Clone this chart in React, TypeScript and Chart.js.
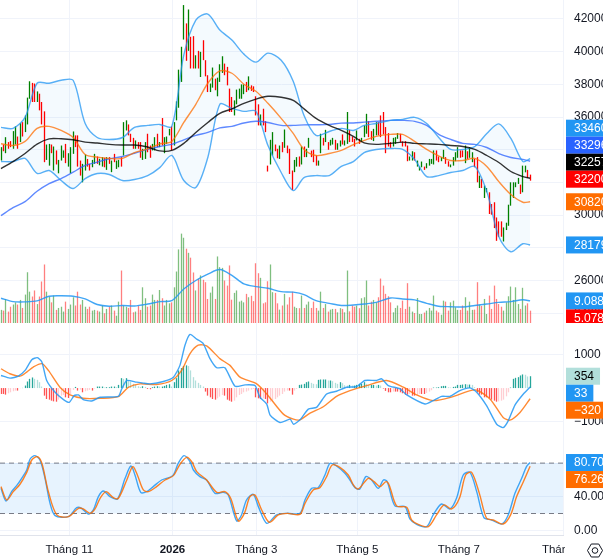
import React, { useEffect, useRef } from "react";
import { Chart, registerables } from "chart.js";

Chart.register(...registerables);

// ---------- candles ----------
const candleHigh = [
  34160,34320,34770,34470,34530,35140,35430,34810,35630,35690,36100,37190,38190,38090,38050,37570,37430,36920,36350,34320,
  34360,34320,34200,33960,33380,34260,33960,34360,33790,34160,35120,34880,34880,33340,33140,33710,33440,33140,33380,33750,
  33590,33450,33550,33510,33550,33550,33340,33750,33340,33380,33550,35690,35800,35550,34980,34730,34570,34470,34470,34060,
  34470,34980,34260,34360,34770,34980,34470,35940,34770,34810,35280,35430,35690,36960,38900,40300,42850,41730,42580,40910,
  40950,39780,40050,39990,40700,39480,38560,38050,39030,38350,38410,39230,39720,39270,39070,37740,37230,37020,37680,37740,
  38000,38000,38150,38490,37940,37880,37270,36780,36160,36510,35750,33030,34610,35080,34320,34060,34260,34470,35240,34260,
  34060,32730,33380,33550,33590,34200,34200,34060,34730,33950,34000,33650,33340,34980,34730,35220,34470,34610,34730,34610,
  34400,34570,34940,34570,36310,35220,34810,34670,35180,34670,34730,35490,36200,35750,35140,35280,35690,35690,36100,36310,
  35390,35020,34470,34730,34770,35020,34980,34510,34530,34260,33590,33910,33850,33340,32970,33280,32970,33180,33440,33440,
  33960,33960,33590,33550,34000,33550,33300,33100,33550,33850,34160,33960,33960,34260,33910,34160,33850,33440,33550,32420,
  32220,31810,31660,31400,30680,30790,29860,29620,29620,29250,29540,30640,32010,32010,32010,32280,31870,33030,33030,32770,32480,
];
const candleLow = [
  33340,33910,33790,34060,34160,34060,34320,34060,34470,34810,35080,35550,37120,36920,36920,36920,36410,35550,33240,33380,
  33030,33790,32730,33100,32560,33340,33510,33180,32970,32560,33750,34160,32970,32420,32010,32730,32970,32730,32930,33140,
  33140,33050,32970,32930,32770,33140,32630,33240,32830,32930,32970,33650,35180,34880,34470,34060,34060,34060,33510,33380,
  33440,33850,33510,33960,33960,34160,34160,34260,33790,34360,34880,33960,34260,35800,36570,38150,40740,39440,40050,38970,
  38970,38970,38970,38450,39480,38490,37530,37530,37800,37640,37270,38150,38700,38560,37940,36310,36310,36100,36780,37120,
  37120,37400,37530,37640,37600,37530,36100,35490,35490,35490,35080,32670,33100,33650,33910,33480,33440,33850,34120,33790,
  32520,31540,32630,32970,32970,33100,33550,33550,34120,33550,33240,33030,33030,33790,34260,34470,34000,34260,34320,34000,
  34000,34200,34320,34260,34360,34470,34470,34200,34570,34360,34470,34770,34980,34770,34610,34530,34880,34880,34770,34940,
  33790,34200,34120,34200,34360,34670,34470,34200,34200,33300,33340,33340,33340,32970,32730,32930,32770,32870,33030,33140,
  33100,33340,33240,33300,33440,33140,32970,32930,33030,33300,33510,33510,33550,33180,33440,33510,33240,32930,32010,31660,
  31660,31050,31400,30070,30030,29210,28430,28680,28680,28390,29090,29350,30580,31050,31710,31910,31300,31400,32620,32280,32110,
];
const candleDir =
  "GRGRRGGRGRGGGRRGRRRGGRGRGGGRGGGRRRGGRRGGR" + "G" + "GRGRGRGGR" +
  "GGRRRGRRGGRRGGRGRGGGRGGGGGRGRRGR" + "GRRRGGRGGGRRRRGGGG" + "G" + "RGRRRRGR" +
  "RRGGRRGRGRRRGGRGRGGRRRGGRGRGGRGGRGGRRRGRGGGRRGGRRRRRRGGG" +
  "RRRRGGRGGGRGGGGRRGGRRGGGGRRGRGGRRGRGGRRRRRRGGGGGGGRGGRR";

// ---------- volume ----------
const volumes = [
  5.4,5.1,9.9,4.7,6.7,7.6,8.5,7.6,9.5,6.2,11.7,20.9,12.9,10.9,13.4,7.8,10.9,17.1,24.1,12.9,
  10.9,8.5,11.3,5.4,6.2,6.7,4.7,8.8,5.8,7.6,10.6,7.2,12.9,7.6,9.5,6.7,5.8,6.7,5.1,5.4,
  5.1,4.7,7.2,4.0,5.8,6.7,7.2,5.1,3.0,8.8,21.6,7.2,6.7,6.2,9.5,4.4,4.7,7.2,5.4,14.7,
  10.2,6.7,7.2,11.7,9.5,9.5,13.6,10.2,7.2,9.5,8.1,8.5,14.7,21.2,30.3,36.8,35.1,30.6,28.9,26.9,
  20.8,13.4,18.2,19.6,17.8,16.8,9.9,12.5,15.0,9.9,27.4,23.0,22.7,17.5,15.4,23.7,9.6,12.4,13.4,8.8,
  9.2,8.5,12.0,10.6,11.2,9.0,24.6,20.5,18.6,8.1,8.5,17.2,24.1,12.7,12.4,8.1,5.5,7.2,12.0,7.6,
  10.6,12.9,6.7,6.2,6.1,11.3,6.2,7.6,8.8,6.2,8.8,6.2,5.1,12.9,6.2,7.8,4.7,5.5,5.8,5.8,
  4.4,6.1,5.8,4.4,21.6,4.8,7.2,6.7,7.2,6.1,10.2,10.6,17.5,7.2,8.8,9.5,8.5,10.6,18.3,15.4,
  12.0,11.0,8.5,4.4,6.2,7.2,6.2,9.2,5.8,16.4,6.7,4.7,4.1,10.3,3.7,3.7,4.3,5.1,6.2,5.1,
  11.3,5.1,4.4,3.4,9.2,8.8,5.1,8.5,9.2,6.5,5.4,5.4,7.2,10.6,5.1,8.8,5.4,5.5,16.8,7.6,
  7.0,9.9,3.7,11.3,5.8,15.4,9.9,7.8,6.7,5.1,8.5,11.0,15.0,9.5,14.7,7.8,5.8,14.5,7.2,8.1,5.078,
];

// ---------- overlay lines, read at these bar positions ----------
const knots = [0,5,10,15,20,25,30,35,40,45,50.5,55.5,61,66,71,76,81,86,91,96,101,106,111,116.5,121.5,126,131,136.5,141.5,146.5,151,156,162,167,172,177,182,187,192,197,202,207,212,217,220];
const bandUpper = [35370,35310,35980,38070,38070,38250,38250,35610,34750,34630,34750,35370,35490,35550,35430,39790,41930,42300,41320,40710,39850,39360,39910,39480,38190,36100,34880,35120,35310,35180,35490,35610,35800,35860,35980,35610,34750,34020,34020,34200,35000,35580,34690,33280,33460];
const bandLower = [33280,33280,33470,32550,32730,32120,31630,32240,32550,32490,32120,32180,32420,32910,33650,32120,31690,33530,36780,36530,36350,36350,34260,32610,31500,32300,32420,32420,32980,33280,33830,34020,34080,34020,33400,32360,32420,32610,32730,32980,31440,28680,27760,28250,28179];
const ma20 = [34370,34260,34510,35310,35430,35180,34750,33710,33550,33470,33470,33830,34050,34360,34510,35670,36780,38070,38820,38680,38010,37580,36840,35920,35000,34020,33650,33770,33960,34320,34570,34820,34940,34940,34510,34020,33620,33340,33340,33470,32980,32050,31260,30790,30820];
const ma50 = [32850,33280,33770,34350,34670,34670,34610,34470,34410,34330,34290,34290,34170,33930,33960,34390,35060,35670,36230,36500,36840,37100,37270,37210,37020,36500,35920,35490,35180,34820,34420,34330,34390,34470,34390,34360,34330,34260,34200,34020,33650,33220,32670,32360,32257];
const ma100 = [29970,30460,30830,31460,31930,32240,32630,33040,33240,33450,33590,33790,34020,34200,34330,34610,34880,35060,35340,35430,35640,35740,35670,35490,35490,35520,35530,35550,35630,35640,35690,35740,35800,35800,35740,35490,34940,34630,34390,34330,34140,33770,33530,33410,33296];
const volumeMA = [10.2,8.8,8.7,9.1,11.0,11.2,11.0,9.9,7.6,6.9,7.2,7.0,7.8,8.8,9.2,14.0,17.5,20.1,22.0,19.6,16.1,15.0,14.3,12.9,12.7,11.7,9.2,8.1,7.2,7.4,7.8,8.5,10.3,9.9,9.5,8.1,6.9,6.7,6.6,7.2,7.8,8.5,8.8,9.6,9.088];

// ---------- MACD ----------
const macdAt = [0,3.7,7.2,10,12.8,15.1,17,19,22.5,26,28.4,30.4,32.2,34.2,37.7,41.2,48.8,50.2,52.3,56.4,59.2,62,67.5,71.7,74.4,76.5,78.6,81.4,84.1,86.9,89.7,93.1,97.3,101.5,105.6,107.7,110.5,111.9,116,120.2,121.6,124.3,127.8,131.2,135.4,139.5,143.7,147.9,151.3,156.2,158.3,161,165.9,168.7,176.3,179.7,183.2,186.7,190.8,195,197.8,201.9,206.1,208.8,210.9,213.7,217.2,220];
const macdLine = [376,296,356,527,848,909,778,226,-126,-346,-427,-226,-206,-346,-387,-276,-246,-25,226,176,146,126,196,326,678,1280,1601,1461,1330,879,607,607,55,95,75,-276,-477,-808,-1029,-929,-1079,-949,-627,-577,-176,-95,25,45,226,226,276,75,-25,-206,-477,-376,-246,-246,-75,5,-125,-527,-1079,-1180,-979,-507,-176,33];
const signalAt = [0,3.7,7.9,10.7,13.4,17,19.7,24.5,28.7,34.2,41.2,48.8,53,57.8,64.7,71,75.1,78.6,82,85.5,91,95.2,99.4,106.3,110.5,117.4,121.6,124.3,128.5,134,139.5,145.1,152,160.3,167.3,172.8,179.7,188,197.1,203.3,208.8,211.6,215.8,220];
const signalLine = [577,427,356,477,627,728,527,25,-206,-306,-306,-256,25,126,105,226,527,1029,1280,1260,879,678,326,125,-176,-778,-929,-949,-748,-557,-246,-75,75,226,25,-206,-376,-256,-55,-326,-878,-959,-728,-320];
const macdHist = [
  -176,-176,-196,-156,-126,-95,-75,-75,-5,5,75,196,276,316,276,246,176,45,-226,-326,
  -346,-376,-397,-407,-346,-226,-206,-276,-296,-176,-55,35,-75,-45,-126,-95,-75,-55,-75,-15,
  45,45,45,15,25,25,45,45,25,95,296,276,296,226,196,126,95,55,35,55,
  35,-25,-35,25,45,55,45,45,65,95,115,45,176,296,527,597,658,678,658,527,
  326,226,156,95,45,-105,-226,-276,-326,-346,-306,-256,-206,-226,-346,-376,-407,-376,-276,-206,
  -176,-126,-105,-75,-45,-25,-276,-306,-326,-306,-326,-457,-407,-376,-326,-276,-226,-176,-105,-75,
  -75,-196,-75,-25,95,105,126,176,196,156,126,115,246,256,256,256,226,226,206,156,
  126,176,146,85,75,95,75,75,95,126,126,176,126,95,95,95,75,95,75,-15,
  -85,-126,-126,-105,-105,-105,-126,-156,-196,-196,-176,-226,-226,-206,-176,-176,-176,-146,-105,-65,
  15,15,25,55,65,65,25,15,35,45,95,95,105,115,105,105,95,25,-126,-196,
  -196,-276,-276,-306,-346,-376,-407,-397,-376,-346,-246,-126,15,276,306,326,376,407,397,346,354,
];

// ---------- stochastic ----------
const stochKAt = [0,2.1,4.4,6.5,8.6,10.7,12.1,14.1,16.2,18.3,20.4,22.5,28,31.5,33.5,36.3,38.4,40.5,42.6,45.3,48.4,51.6,54,55.7,58.1,60.6,63.3,66.8,71.4,73.7,76.1,78.6,80,82.7,85.5,89,92.4,94.5,98,100,102.1,104.9,107,110.5,114.6,118.8,124.3,126.4,129.2,131.9,134.7,136.8,139.5,143,145.1,147.2,149.2,151.7,154.1,156.9,159,160.6,163.8,168,170,172.8,177,179.7,183.2,186.7,189.4,192.2,195,197.8,200.8,204,208.2,210.9,213.7,216.5,218.5,220];
const stochK = [50,34.9,46,53.2,61.9,71.8,84.9,88.9,83.7,61.9,32.1,17.5,16.3,27,26.2,19.4,24.2,40.1,46.8,40.1,37.3,61.9,76.6,65.9,45.2,46,52,59.9,65.1,79.8,88.9,81.7,71.8,63.9,59.9,44,45.2,42.1,11.1,18.3,36.1,42.9,28.2,8.3,18.3,20.2,20.2,36.1,50,50.8,65.9,79.8,76.6,67.9,59.9,50.8,49.2,63.9,59.9,50,59.9,57.9,29,28.2,13.5,7.1,4.4,18.3,31.3,25.4,38.1,65.9,69,46,15.1,12.3,7.5,18.3,44,61.9,75.8,80.7];
const stochDAt = [0,2.4,5.1,7.9,10.7,12.8,15.1,17,19.7,23.2,28,32.2,34.2,37,39.1,41.2,43.7,46.7,48.8,52.3,54.8,56.7,59.2,61.3,64.7,68.2,71.7,74.4,77.2,79.3,81.4,85.5,89.7,93.1,95.5,98.7,101.2,103.5,105.6,108.4,111.6,115.3,119.1,124.3,126.4,129.8,132.6,135.4,137.7,140.9,144.4,146.5,148.6,152.7,155.1,157.6,160.1,161.4,164.5,168.7,170.7,173.5,177.7,181.1,184.2,187.4,190.6,193.2,195.7,198.9,201.9,204.7,208.8,211.9,214.4,217.2,220];
const stochD = [52,36.1,46,54.8,69,83.7,87.7,79.8,46,18.3,16.3,26.2,25.4,20.2,25.4,38.1,46,38.9,38.1,59.9,75.8,65.9,48,46,52,59.9,65.1,78.6,86.9,81.7,69.8,59.9,45.2,46,38.1,11.1,20.2,40.1,42.1,24.2,9.5,18.3,20.2,19,32.1,48,50.8,63.9,77.8,75,65.9,54,49.2,61.9,57.9,52,57.9,54,29,27.4,12.3,7.1,4.4,18.3,30.2,25.4,38.1,65.9,69,44,14.3,12.3,7.5,18.3,40.1,57.9,76.26];

// ---------- axes ----------
const priceTicks = [42000,40000,38000,36000,34000,32000,30000,28000,26000,24000];
const macdTicks = [1000,-1000];
const stochTicks = [80,40,0];
const stochLevels = [80,20];
const monthAt = [28.4,71.3,106.2,148.2,190.4,233.68];
const monthNames = ["Tháng 11","2026","Tháng 3","Tháng 5","Tháng 7","Tháng 9"];

const BLUE = "#2196f3", ROYAL = "#2962ff", ORANGE = "#ff6d00", RED = "#ff0000", MINT = "#b2dfdb";
const FONT = '"Liberation Sans", sans-serif';
const FS = 12;
const X_MIN = -0.416, X_MAX = 233.68;
const GRID = "#f0f3fa", EDGE = "#e0e3eb", INK = "#131722";

const minus = (s: string) => s.replace("-", "\u2212");
const pts = (xs: number[], ys: number[]) => ys.map((y, i) => ({ x: xs[i], y }));
const line = (label: string, data: any[], color: string, yAxisID: string, extra: any = {}) => ({
  type: "line", label, data, yAxisID, xAxisID: "x", borderColor: color, borderWidth: 1.4, pointRadius: 0,
  tension: 0.3, fill: false, order: 1, ...extra,
});
const thinBar = { grouped: false, barThickness: 1.3, inflateAmount: 0, borderWidth: 0 };

// tags on the price scale: each keeps its value's height unless it would overlap a neighbour
const tagPlugin = {
  id: "tags",
  afterDraw(chart: any, _a: any, opts: any) {
    const { ctx } = chart;
    ctx.save();
    ctx.font = `${FS}px ${FONT}`;
    ctx.textBaseline = "middle";
    ctx.textAlign = "left";
    const H = 17;
    for (const g of opts.groups || []) {
      const items = g.items.map((t: any) => ({ ...t, y: chart.scales[g.axis].getPixelForValue(t.value) }));
      items.sort((p: any, q: any) => p.y - q.y);
      const ai = items.findIndex((t: any) => t.anchor);
      for (let i = ai - 1; i >= 0; i--) items[i].y = Math.min(items[i].y, items[i + 1].y - H);
      for (let i = ai + 1; i < items.length; i++) items[i].y = Math.max(items[i].y, items[i - 1].y + H);
      for (const t of items) {
        const w = ctx.measureText(t.text).width;
        ctx.fillStyle = t.bg;
        ctx.fillRect(566, t.y - H / 2, 8 + w + 6, H);
        ctx.fillStyle = t.fg;
        ctx.fillText(t.text, 574, t.y + 0.5);
      }
    }
    ctx.restore();
  },
};

// settles each bar on a whole pixel column so that the one-pixel bars stay crisp
const snapPlugin = {
  id: "snap",
  beforeDatasetsDraw(chart: any) {
    chart.getSortedVisibleDatasetMetas().forEach((meta: any) => {
      if (meta.type !== "bar") return;
      meta.data.forEach((el: any) => { el.x = Math.floor(el.x) + 0.5; });
    });
  },
};

// blanks the corner right of the time axis and draws the settings glyph
const cornerPlugin = {
  id: "corner",
  afterDraw(chart: any, _a: any, opts: any) {
    if (!opts.on) return;
    const { ctx, chartArea } = chart;
    ctx.save();
    ctx.fillStyle = "#fff";
    ctx.fillRect(565, chartArea.bottom + 1, 38, 40);
    const cx = 595, cy = chartArea.bottom + 15.5, r = 7.5;
    ctx.strokeStyle = INK;
    ctx.lineWidth = 1;
    ctx.beginPath();
    for (let k = 0; k < 6; k++) {
      const t = (Math.PI / 3) * k;
      const px = cx + r * Math.cos(t), py = cy + r * Math.sin(t);
      if (k === 0) ctx.moveTo(px, py); else ctx.lineTo(px, py);
    }
    ctx.closePath();
    ctx.stroke();
    ctx.beginPath();
    ctx.arc(cx, cy, 2.8, 0, Math.PI * 2);
    ctx.stroke();
    ctx.restore();
  },
};

const noPad = (s: any) => { s.paddingTop = 0; s.paddingBottom = 0; s.paddingLeft = 0; s.paddingRight = 0; };

const xAxis = (showLabels: boolean) => ({
  type: "linear",
  min: X_MIN,
  max: X_MAX,
  offset: false,
  grid: { offset: false, color: GRID, drawTicks: false, lineWidth: 1 },
  border: { display: true, color: EDGE },
  afterBuildTicks: (s: any) => { s.ticks = monthAt.map((value) => ({ value })); },
  afterFit: (s: any) => { s.height = showLabels ? 23 : 0; noPad(s); },
  ticks: {
    display: showLabels,
    autoSkip: false,
    maxRotation: 0,
    padding: 8,
    color: INK,
    font: (c: any) => ({ family: FONT, size: 11.5, weight: c.tick && c.tick.label === "2026" ? "bold" : "normal" }),
    callback: (v: number) => monthNames[monthAt.indexOf(v)] ?? "",
  },
});

const yAxis = (min: number, max: number, values: number[], fmt: (v: number) => string) => ({
  position: "right",
  min,
  max,
  grid: { color: GRID, drawTicks: false },
  border: { display: false },
  afterBuildTicks: (s: any) => { s.ticks = values.map((value) => ({ value })); },
  afterFit: (s: any) => { s.width = 40; noPad(s); },
  ticks: { autoSkip: false, padding: 11, color: INK, font: { family: FONT, size: FS }, callback: (v: number) => fmt(v) },
});

const baseOptions = (scales: any, plugins: any = {}) => ({
  responsive: false,
  animation: false,
  maintainAspectRatio: false,
  devicePixelRatio: 1,
  layout: { padding: 0 },
  events: [],
  scales,
  plugins: {
    legend: { display: false },
    tooltip: { enabled: false },
    filler: { drawTime: "beforeDatasetsDraw" },
    ...plugins,
  },
});

const candleColor = (d: string, a: number) => (d === "G" ? `rgba(0,128,0,${a})` : `rgba(255,0,0,${a})`);

export default function App() {
  const mainRef = useRef<HTMLCanvasElement>(null);
  const macdRef = useRef<HTMLCanvasElement>(null);
  const stochRef = useRef<HTMLCanvasElement>(null);

  useEffect(() => {
    const main = new Chart(mainRef.current as any, {
      type: "bar",
      plugins: [snapPlugin, tagPlugin],
      data: {
        datasets: [
          line("BB upper", pts(knots, bandUpper), "rgba(33,150,243,0.75)", "price", { fill: { target: "+1" }, backgroundColor: "rgba(33,150,243,0.05)", order: 2 }),
          line("BB lower", pts(knots, bandLower), "rgba(33,150,243,0.75)", "price", { order: 2 }),
          line("MA100", pts(knots, ma100), "rgba(41,98,255,0.75)", "price", { order: 2 }),
          line("MA50", pts(knots, ma50), "rgba(0,0,0,0.8)", "price", { order: 1 }),
          line("MA20", pts(knots, ma20), "rgba(255,109,0,0.75)", "price", { order: 1 }),
          line("Vol MA", pts(knots, volumeMA), "rgba(33,150,243,0.85)", "vol", { order: 2 }),
          {
            type: "bar", label: "Candles", yAxisID: "price", xAxisID: "x", order: 4, ...thinBar,
            data: candleHigh.map((h, i) => ({ x: i, y: [candleLow[i], h] })),
            backgroundColor: candleHigh.map((_, i) => candleColor(candleDir[i], 1)),
          },
          {
            type: "bar", label: "Volume", yAxisID: "vol", xAxisID: "x", order: 5, ...thinBar,
            data: volumes.map((v, i) => ({ x: i, y: v })),
            backgroundColor: volumes.map((_, i) => candleColor(candleDir[i], 0.5)),
          },
        ],
      } as any,
      options: baseOptions(
        {
          x: xAxis(false),
          price: yAxis(23405, 43160, priceTicks, (v) => String(v)),
          vol: { display: false, min: 0, max: 133, position: "left" },
        },
        {
          tags: {
            groups: [
              {
                axis: "price",
                items: [
                  { text: "33460", value: bandUpper[44], bg: BLUE, fg: "#fff" },
                  { text: "33296", value: ma100[44], bg: ROYAL, fg: "#fff" },
                  { text: "32257", value: ma50[44], bg: "#000", fg: "#fff" },
                  { text: "32200", value: 32200, bg: RED, fg: "#fff", anchor: true },
                  { text: "30820", value: ma20[44], bg: ORANGE, fg: "#fff" },
                  { text: "28179", value: bandLower[44], bg: BLUE, fg: "#fff" },
                ],
              },
              {
                axis: "vol",
                items: [
                  { text: "9.088", value: volumeMA[44], bg: BLUE, fg: "#fff", anchor: true },
                  { text: "5.078", value: volumes[220], bg: RED, fg: "#fff" },
                ],
              },
            ],
          },
        }
      ) as any,
    });

    const histColor = macdHist.map((v, i) => {
      const p = i > 0 ? macdHist[i - 1] : v;
      if (v >= 0) return v >= p ? "#26a69a" : "#b2dfdb";
      return v <= p ? "#ff5252" : "#ffcdd2";
    });
    const macd = new Chart(macdRef.current as any, {
      type: "bar",
      plugins: [snapPlugin, tagPlugin],
      data: {
        datasets: [
          line("MACD", pts(macdAt, macdLine), "rgba(33,150,243,0.85)", "y", { tension: 0.2 }),
          line("Signal", pts(signalAt, signalLine), "rgba(255,109,0,0.8)", "y", { tension: 0.25 }),
          {
            type: "bar", label: "Histogram", yAxisID: "y", xAxisID: "x", order: 4, ...thinBar,
            data: macdHist.map((v, i) => ({ x: i, y: v })),
            backgroundColor: histColor,
          },
        ],
      } as any,
      options: baseOptions(
        { x: xAxis(false), y: yAxis(-1491, 1943, macdTicks, (v) => minus(String(v))) },
        {
          tags: {
            groups: [
              {
                axis: "y",
                items: [
                  { text: "354", value: macdHist[macdHist.length - 1], bg: MINT, fg: "#000", anchor: true },
                  { text: "33", value: macdLine[macdLine.length - 1], bg: BLUE, fg: "#fff" },
                  { text: minus("-320"), value: signalLine[signalLine.length - 1], bg: ORANGE, fg: "#fff" },
                ],
              },
            ],
          },
        }
      ) as any,
    });

    const level = (v: number) => [{ x: X_MIN, y: v }, { x: X_MAX, y: v }];
    const stoch = new Chart(stochRef.current as any, {
      type: "line",
      plugins: [tagPlugin, cornerPlugin],
      data: {
        datasets: [
          line("Upper", level(stochLevels[0]), "#787b86", "y", { tension: 0, borderWidth: 1, borderDash: [5, 4], fill: { target: "+1" }, backgroundColor: "rgba(33,150,243,0.11)", order: 3 }),
          line("Lower", level(stochLevels[1]), "#787b86", "y", { tension: 0, borderWidth: 1, borderDash: [5, 4], order: 3 }),
          line("%K", pts(stochKAt, stochK), "rgba(33,150,243,0.85)", "y", { order: 2 }),
          line("%D", pts(stochDAt, stochD), "rgba(255,109,0,0.85)", "y", { order: 1 }),
        ],
      } as any,
      options: baseOptions(
        { x: xAxis(true), y: yAxis(-5.6, 109.9, stochTicks, (v) => v.toFixed(2)) },
        {
          corner: { on: true },
          tags: {
            groups: [
              {
                axis: "y",
                items: [
                  { text: "80.70", value: stochK[stochK.length - 1], bg: BLUE, fg: "#fff", anchor: true },
                  { text: "76.26", value: stochD[stochD.length - 1], bg: ORANGE, fg: "#fff" },
                ],
              },
            ],
          },
        }
      ) as any,
    });

    return () => {
      main.destroy();
      macd.destroy();
      stoch.destroy();
    };
  }, []);

  const abs = (top: number): React.CSSProperties => ({ position: "absolute", left: 0, top, display: "block" });
  return (
    <div style={{ position: "fixed", left: 0, top: 0, width: 603, height: 558, background: "#fff", overflow: "hidden" }}>
      <canvas ref={mainRef} width={603} height={323} style={abs(0)} />
      <canvas ref={macdRef} width={603} height={115} style={abs(323)} />
      <canvas ref={stochRef} width={603} height={120} style={abs(438)} />
    </div>
  );
}
